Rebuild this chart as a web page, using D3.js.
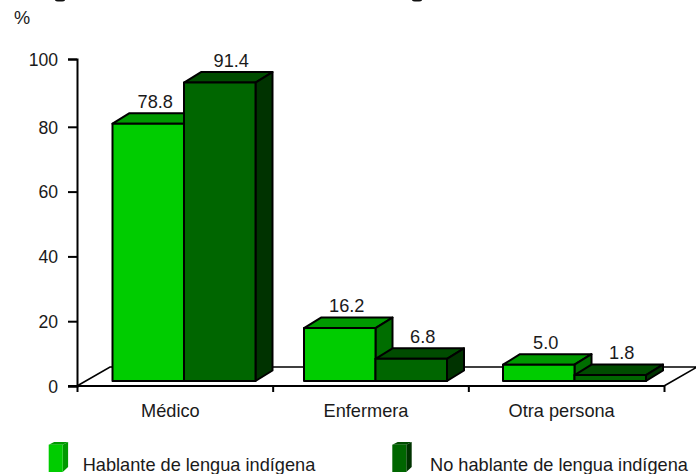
<!DOCTYPE html>
<html><head><meta charset="utf-8">
<script src="https://cdn.jsdelivr.net/npm/d3@7"></script>
<style>html,body{margin:0;padding:0;background:#fff}svg{display:block}text{font-family:"Liberation Sans",Arial,sans-serif;fill:#1a1a1a}</style>
</head><body><svg id="c" width="696" height="474"></svg>
<script>
const categories = ["Médico","Enfermera","Otra persona"];
const seriesNames = ["Hablante de lengua indígena","No hablante de lengua indígena"];
const hablante = [78.8,16.2,5.0];
const noHablante = [91.4,6.8,1.8];
const yTicks = [0,20,40,60,80,100];

const svg = d3.select("#c");
const W = {front:["#00CC00","#006600"],side:["#006E00","#003300"],top:["#009900","#004C00"]};
const y = d3.scaleLinear().domain([0,80,100]).range([386,126.8,59]);
const yBar = d3.scaleLinear().domain([0,100]).range([381,54.5]);
const xEdge = d3.scaleLinear().domain([0,categories.length]).range([77,664]);
const xBand = d3.scaleBand().domain(categories).range([77,664]);
const groupLeft = d3.scaleOrdinal().domain(categories).range([112.5,304,503]);
const barW = 71.5, dx = 17, dy = -10.5, floorDx = 33, floorDy = -19;
const FS = 18.2;

// clipped title remnants at the top edge
svg.append("g").selectAll("ellipse").data([60,417]).join("ellipse")
  .attr("cx",d=>d).attr("cy",0).attr("rx",5).attr("ry",1.6).attr("fill","#111");

// floor
svg.append("path")
  .attr("d",d3.line()([[xEdge(0),y(0)],[xEdge(0)+floorDx,y(0)+floorDy],[xEdge(3)+floorDx,y(0)+floorDy],[xEdge(3),y(0)]]))
  .attr("fill","#fff").attr("stroke","#000").attr("stroke-width",1.6);

// axes
const ga = svg.append("g").attr("transform","translate(77,0)")
  .call(d3.axisLeft(y).tickValues(yTicks).tickSize(9).tickPadding(10));
ga.select(".domain").attr("stroke","#000").attr("stroke-width",2);
ga.selectAll(".tick line").attr("stroke","#000").attr("stroke-width",2);
ga.selectAll(".tick text").style("font-size","17.6px").style("font-family",'"Liberation Sans"').attr("dy","0.36em");
const gb = svg.append("g").attr("transform","translate(0,386)")
  .call(d3.axisBottom(xEdge).tickValues([0,1,2,3]).tickSize(6).tickFormat(""));
gb.select(".domain").attr("stroke","#000").attr("stroke-width",2).attr("d","M68,0H664");
gb.selectAll(".tick line").attr("stroke","#000").attr("stroke-width",2);

svg.append("g").selectAll("text").data(categories).join("text")
  .attr("x",d=>xBand(d)+xBand.bandwidth()/2-4.5).attr("y",416.5).attr("text-anchor","middle")
  .style("font-size",FS+"px").text(d=>d);

svg.append("text").attr("x",14).attr("y",24).style("font-size",FS+"px").text("%");

// bars
const base = yBar(0);
const line = d3.line();
[hablante,noHablante].forEach((vals,s)=>{
  const g = svg.append("g");
  vals.forEach((v,i)=>{
    const l = groupLeft(categories[i])+s*barW, r = l+barW, t = yBar(v);
    g.append("path").attr("d",line([[l,t],[l+dx,t+dy],[r+dx,t+dy],[r,t]])+"Z").attr("fill",W.top[s]);
    g.append("path").attr("d",line([[r,t],[r+dx,t+dy],[r+dx,base+dy],[r,base]])+"Z").attr("fill",W.side[s]);
    g.append("rect").attr("x",l).attr("y",t).attr("width",barW).attr("height",base-t).attr("fill",W.front[s]);
    g.selectAll("path,rect").attr("stroke","#000").attr("stroke-width",2).attr("stroke-linejoin","round");
  });
});
// value labels
[hablante,noHablante].forEach((vals,s)=>{
  svg.append("g").selectAll("text").data(vals).join("text")
    .attr("x",(v,i)=>groupLeft(categories[i])+s*barW+barW/2+(s?11.5:7))
    .attr("y",v=>yBar(v)-16).attr("text-anchor","middle")
    .style("font-size",FS+"px").text(v=>v.toFixed(1));
});

// legend
const legX = [48.7,392.3], lw = 14, lh = 27.3, ly = 444.7, ld = 5.4, ldy = -2.7;
seriesNames.forEach((n,s)=>{
  const g = svg.append("g"), l = legX[s], r = l+lw;
  g.append("path").attr("d",line([[l,ly],[l+ld,ly+ldy],[r+ld,ly+ldy],[r,ly]])+"Z").attr("fill",W.top[s]);
  g.append("path").attr("d",line([[r,ly],[r+ld,ly+ldy],[r+ld,ly+lh-5],[r,ly+lh]])+"Z").attr("fill",s?W.side[s]:"#009900");
  g.append("rect").attr("x",l).attr("y",ly).attr("width",lw).attr("height",lh).attr("fill",W.front[s]);
});
svg.append("g").selectAll("text").data(seriesNames).join("text")
  .attr("x",(d,i)=>[82.7,430][i]).attr("y",470.7).style("font-size",FS+"px").text(d=>d);
</script></body></html>
